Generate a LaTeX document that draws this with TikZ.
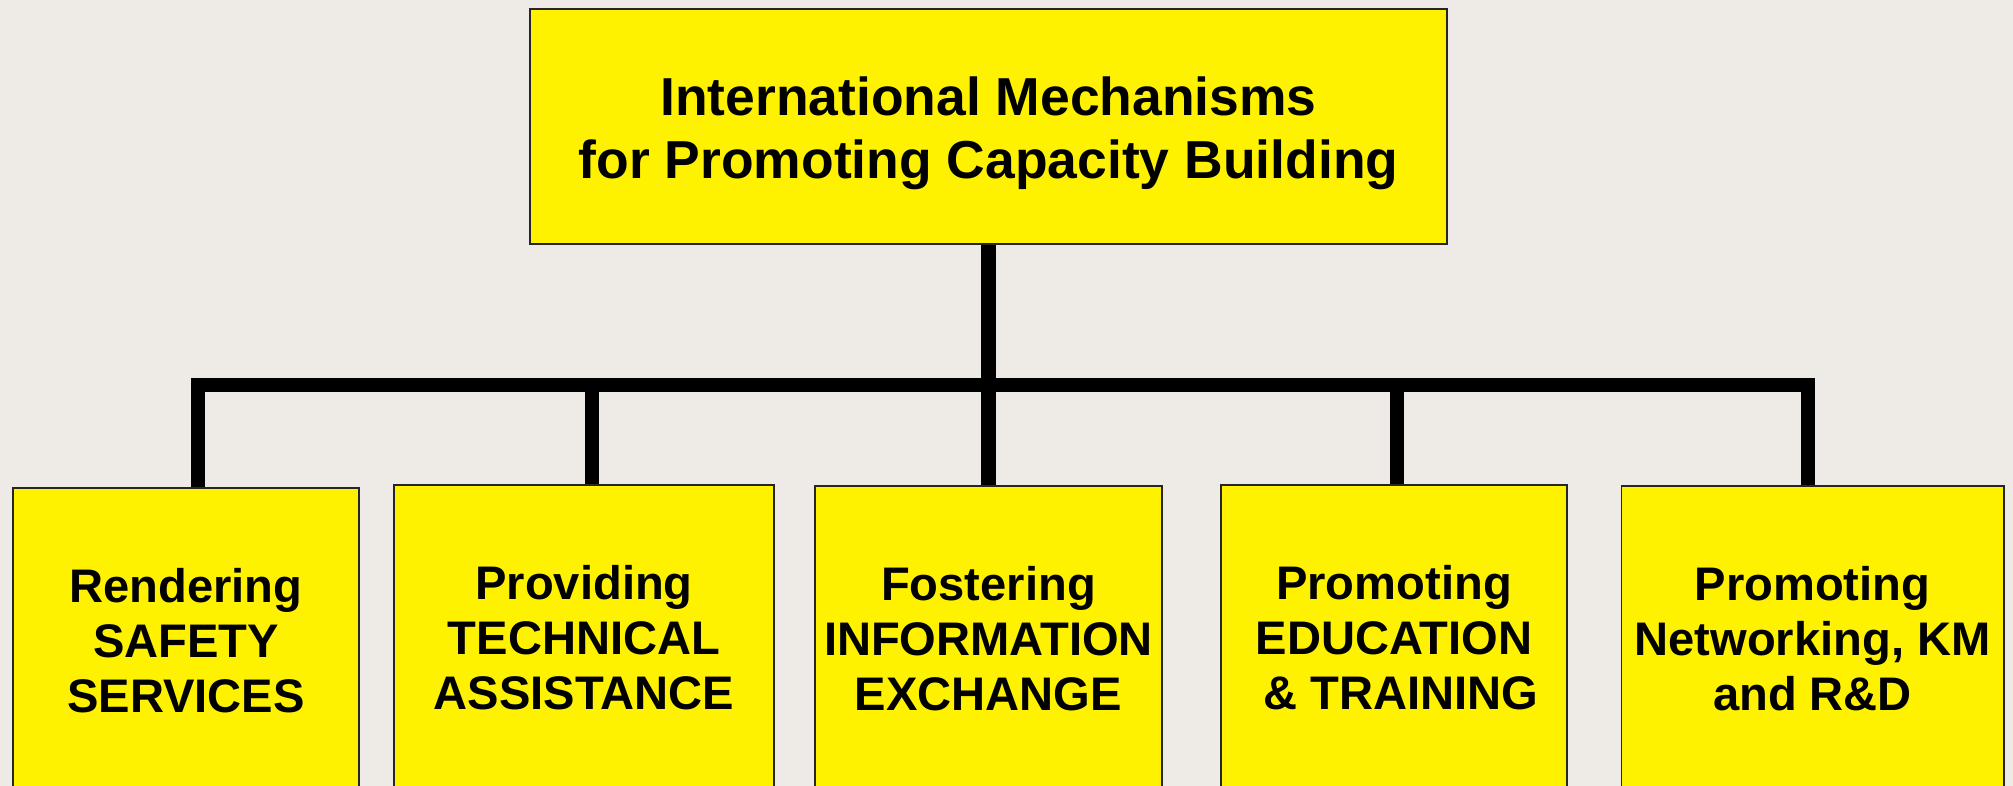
\documentclass[tikz,border=0pt]{standalone}
\usepackage{fontspec}
\setmainfont{Liberation Sans}
\definecolor{paper}{RGB}{238,235,230}
\begin{document}
\begin{tikzpicture}[x=0.01cm,y=-0.01cm,
        topbox/.style={draw=black!85,line width=0.5pt,fill=yellow,minimum width=9.17cm,minimum height=2.35cm},
        toptext/.style={font=\bfseries\fontsize{15.2}{17.9}\selectfont,align=center,inner sep=0pt},
        subbox/.style={draw=black!85,line width=0.5pt,fill=yellow,anchor=north,minimum height=3.06cm,inner sep=0pt,
            align=center,font=\bfseries\fontsize{13.4}{15.6}\selectfont},
        link/.style={line width=4.1pt,line join=miter}]
        \useasboundingbox (0,0) rectangle (2013,786);
        \clip (0,0) rectangle (2013,786);
        \fill[paper] (0,0) rectangle (2013,786);
        %% Boxes
        \node[topbox] (top) at (988.5,126.5) {};
        \node[toptext] (title) at (988.5,133) {International Mechanisms\\for Promoting Capacity Building};
        \node[subbox,minimum width=3.46cm] (safety) at (186,487) {Rendering\\SAFETY\\SERVICES};
        \node[subbox,minimum width=3.80cm] (tech) at (584,484) {Providing\\TECHNICAL\\ASSISTANCE};
        \node[subbox,minimum width=3.47cm] (info) at (988.5,485) {Fostering\\INFORMATION\\EXCHANGE};
        \node[subbox,minimum width=3.46cm] (edu) at (1394,484) {Promoting\\EDUCATION\\\ \& TRAINING};
        \node[subbox,minimum width=3.82cm] (net) at (1812.5,485) {Promoting\\Networking, KM\\and R\&D};
        %% Tree lines
        \coordinate (j1) at (198,385);
        \coordinate (j2) at (592,385);
        \coordinate (j4) at (1397,385);
        \coordinate (j5) at (1808,385);
        \draw[link] (j1 |- safety.north) -- (j1) -- (j5) -- (j5 |- net.north);
        \draw[link] (top.south) -- (info.north);
        \draw[link] (j2) -- (j2 |- tech.north);
        \draw[link] (j4) -- (j4 |- edu.north);
    \end{tikzpicture}
\end{document}
